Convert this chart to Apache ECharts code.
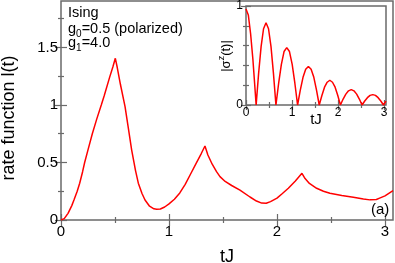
<!DOCTYPE html>
<html><head><meta charset="utf-8">
<script src="https://cdn.jsdelivr.net/npm/echarts@6/dist/echarts.min.js"></script>
<style>html,body{margin:0;padding:0;background:#fff}#c{width:395px;height:263px}</style>
</head><body><div id="c"></div>
<script>
// ---- data ----
const mainT = [0,0.03,0.065,0.1,0.12,0.15,0.173,0.2,0.219,0.25,0.29,0.33,0.373,0.4,0.45,0.48,0.503,
  0.52,0.55,0.593,0.62,0.654,0.69,0.716,0.75,0.778,0.82,0.86,0.886,0.92,0.96,1.0,1.05,1.1,1.15,1.2,1.25,1.3,1.333,
  1.36,1.4,1.44,1.472,1.52,1.58,1.657,1.75,1.81,1.858,1.9,1.94,2.0,2.05,2.105,2.17,2.231,
  2.26,2.3,2.367,2.43,2.49,2.6,2.707,2.8,2.86,2.92,2.95,3.0,3.074];
const mainL = [0,0.012,0.058,0.125,0.174,0.25,0.32,0.42,0.5,0.61,0.75,0.875,1.0,1.08,1.24,1.33,1.406,
  1.33,1.18,0.985,0.82,0.61,0.43,0.32,0.23,0.174,0.12,0.097,0.093,0.096,0.113,0.14,0.18,0.235,0.31,0.40,0.49,0.58,0.643,
  0.565,0.485,0.42,0.377,0.335,0.3,0.26,0.2,0.165,0.147,0.146,0.16,0.19,0.23,0.276,0.34,0.406,
  0.36,0.318,0.276,0.25,0.232,0.213,0.197,0.182,0.175,0.178,0.19,0.21,0.255];
const insetT = [0,0.05,0.1,0.15,0.19,0.22,
  0.274,0.328,0.381,0.435,0.489,0.543,0.596,0.65,
  0.709,0.768,0.826,0.885,0.944,1.003,1.061,1.12,
  1.179,1.238,1.296,1.355,1.414,1.473,1.531,1.59,
  1.648,1.705,1.763,1.82,1.878,1.935,1.993,2.05,
  2.109,2.168,2.226,2.285,2.344,2.403,2.461,2.52,
  2.578,2.636,2.694,2.753,2.811,2.869,2.927,2.985,3.04];
const insetS = [0.97,0.91,0.72,0.46,0.2,0,
  0.32,0.59,0.77,0.83,0.77,0.59,0.32,0,
  0.22,0.41,0.54,0.58,0.54,0.41,0.22,0,
  0.15,0.28,0.36,0.39,0.36,0.28,0.15,0,
  0.096,0.18,0.23,0.25,0.23,0.18,0.096,0,
  0.06,0.11,0.143,0.155,0.143,0.11,0.06,0,
  0.04,0.074,0.097,0.105,0.097,0.074,0.04,0,0.04];
const mainXTicks = [0,1,2,3];
const mainXMinor = [0.5,1.5,2.5];
const mainYTicks = [0,0.5,1,1.5];
const mainYMinor = [0.25,0.75,1.25,1.75];
const insetXTicks = [0,1,2,3];
const insetXMinor = [0.5,1.5,2.5];
const insetYTicks = [0,1];
const insetYMinor = [0.2,0.4,0.6,0.8];
const mainXName = 'tJ', mainYName = 'rate function l(t)';
const insetXName = 'tJ';
const textLines = ['Ising', 'g0=0.5 (polarized)', 'g1=4.0'];
const panelLabel = '(a)';

// ---- chart ----
const FONT = '"Liberation Sans", Arial, Helvetica, sans-serif';
const AX = '#6a6a6a';
function mkAxis(gi, pos, min, max, ticks, len, labelSize, margin, z, extra) {
  return Object.assign({
    type: 'value', gridIndex: gi, position: pos, min: min, max: max, z: z,
    axisLine: {show: false},
    axisTick: {show: true, inside: true, length: len, customValues: ticks, lineStyle: {color: AX, width: 1.2}},
    axisLabel: {show: labelSize > 0, customValues: ticks, margin: margin, fontSize: labelSize || 12, color: '#000', fontFamily: FONT},
    splitLine: {show: false}
  }, extra || {});
}
const MX = [0, 3.074], MY = [0, 1.904], IX = [0, 3.04], IY = [0, 1];
const xAxes = [
  mkAxis(0, 'bottom', MX[0], MX[1], mainXTicks, 6, 15, 4, 1, {name: mainXName, nameLocation: 'middle', nameGap: 28,
    nameMoveOverlap: false, nameTextStyle: {fontSize: 18, fontFamily: FONT, color: '#000'}}),
  mkAxis(0, 'bottom', MX[0], MX[1], mainXMinor, 3, 0, 0, 1),
  mkAxis(0, 'top', MX[0], MX[1], mainXTicks, 6, 0, 0, 1),
  mkAxis(0, 'top', MX[0], MX[1], mainXMinor, 3, 0, 0, 1),
  mkAxis(1, 'bottom', IX[0], IX[1], insetXTicks, 5, 12, 2, 10, {name: insetXName, nameLocation: 'middle', nameGap: 7,
    nameMoveOverlap: false, nameTextStyle: {fontSize: 15, fontFamily: FONT, color: '#000'}}),
  mkAxis(1, 'bottom', IX[0], IX[1], insetXMinor, 3, 0, 0, 10),
  mkAxis(1, 'top', IX[0], IX[1], insetXTicks, 5, 0, 0, 10),
  mkAxis(1, 'top', IX[0], IX[1], insetXMinor, 3, 0, 0, 10)
];
const yAxes = [
  mkAxis(0, 'left', MY[0], MY[1], mainYTicks, 6, 15, 3, 1),
  mkAxis(0, 'left', MY[0], MY[1], mainYMinor, 3, 0, 0, 1),
  mkAxis(0, 'right', MY[0], MY[1], mainYTicks, 6, 0, 0, 1),
  mkAxis(0, 'right', MY[0], MY[1], mainYMinor, 3, 0, 0, 1),
  mkAxis(1, 'left', IY[0], IY[1], insetYTicks, 5, 12, 3, 10),
  mkAxis(1, 'left', IY[0], IY[1], insetYMinor, 3, 0, 0, 10),
  mkAxis(1, 'right', IY[0], IY[1], insetYTicks, 5, 0, 0, 10),
  mkAxis(1, 'right', IY[0], IY[1], insetYMinor, 3, 0, 0, 10)
];
const chart = echarts.init(document.getElementById('c'), null, {renderer: 'canvas'});
chart.setOption({
  animation: false,
  backgroundColor: '#fff',
  grid: [
    {left: 61, top: 1, width: 332, height: 219, show: true, borderColor: AX, borderWidth: 1.5, backgroundColor: 'transparent', z: 0,
      containLabel: false, outerBoundsMode: 'none'},
    {left: 246, top: 6, width: 140, height: 99, show: true, borderColor: AX, borderWidth: 1.5, backgroundColor: '#fff', z: 8,
      containLabel: false, outerBoundsMode: 'none'}
  ],
  xAxis: xAxes,
  yAxis: yAxes,
  series: [
    {type: 'line', xAxisIndex: 0, yAxisIndex: 0, data: mainT.map((t, i) => [t, mainL[i]]), showSymbol: false,
      lineStyle: {color: '#ff0000', width: 1.5}, z: 2},
    {type: 'line', xAxisIndex: 4, yAxisIndex: 4, data: insetT.map((t, i) => [t, insetS[i]]), showSymbol: false,
      lineStyle: {color: '#ff0000', width: 1.5}, z: 12}
  ],
  graphic: [
    {type: 'text', x: 9, y: 118, rotation: Math.PI / 2, z: 20,
      style: {text: mainYName, fontSize: 18, fontFamily: FONT, fill: '#000', align: 'center', verticalAlign: 'middle'}},
    {type: 'text', x: 68, y: 5, z: 20, style: {text: textLines[0], fontSize: 14.5, fontFamily: FONT, fill: '#000'}},
    {type: 'text', x: 68, y: 21, z: 20, style: {text: '{n|g}{s|0}{n|=0.5 (polarized)}', fontFamily: FONT, fill: '#000',
      rich: {n: {fontSize: 14.5, lineHeight: 18, verticalAlign: 'top', fontFamily: FONT}, s: {fontSize: 10, lineHeight: 18, verticalAlign: 'bottom', fontFamily: FONT}}}},
    {type: 'text', x: 68, y: 35, z: 20, style: {text: '{n|g}{s|1}{n|=4.0}', fontFamily: FONT, fill: '#000',
      rich: {n: {fontSize: 14.5, lineHeight: 18, verticalAlign: 'top', fontFamily: FONT}, s: {fontSize: 10, lineHeight: 18, verticalAlign: 'bottom', fontFamily: FONT}}}},
    {type: 'text', x: 225, y: 56, rotation: Math.PI / 2, z: 20,
      style: {text: '{n||σ}{s|z}{n|(t)|}', fontFamily: FONT, fill: '#000', align: 'center', verticalAlign: 'middle',
        rich: {n: {fontSize: 13, lineHeight: 15, verticalAlign: 'bottom', fontFamily: FONT}, s: {fontSize: 9, lineHeight: 15, verticalAlign: 'top', fontFamily: FONT}}}},
    {type: 'text', x: 371, y: 202, z: 20, style: {text: panelLabel, fontSize: 15, fontFamily: FONT, fill: '#000'}}
  ]
});
</script></body></html>
